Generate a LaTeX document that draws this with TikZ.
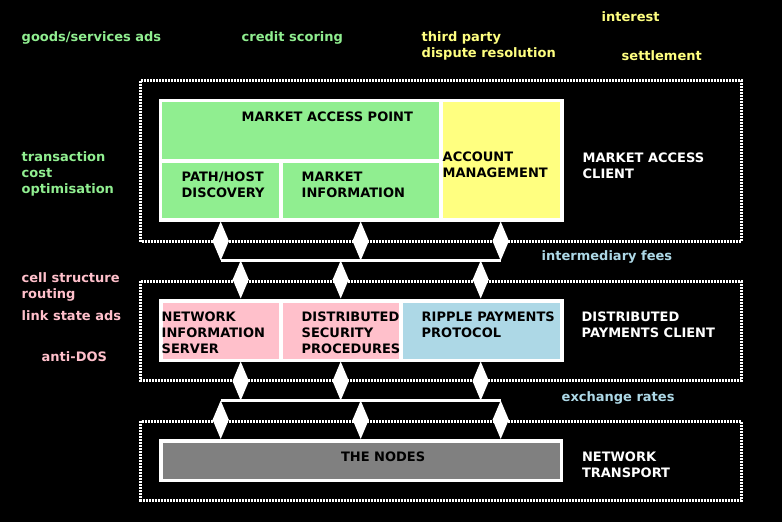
\documentclass[tikz,border=0pt]{standalone}
\usepackage{fontspec}
\setmainfont{DejaVu Sans}
\usetikzlibrary{arrows.meta}
\definecolor{mgreen}{HTML}{90EE90}
\definecolor{myellow}{HTML}{FFFF80}
\definecolor{mpink}{HTML}{FFC0CB}
\definecolor{mblue}{HTML}{ADD8E6}
\definecolor{mgray}{HTML}{808080}
\tikzset{
  cell/.style={inner sep=0pt, outer sep=0pt, anchor=north west},
  txt/.style={inner sep=0pt, outer sep=0pt, anchor=north west, align=left,
    font=\fontsize{13}{16}\selectfont\bfseries},
  frame/.style={draw=white, line width=3pt, dash pattern=on 2pt off 1pt},
  bus/.style={draw=white, line width=3.5pt},
  updown/.style={draw=white, fill=white, line width=1.5pt,
    {Triangle[length=19.5pt,width=16pt]}-{Triangle[length=19.5pt,width=16pt]}},
}
\begin{document}
\begin{tikzpicture}[x=1pt, y=-1pt]
  \useasboundingbox (0,0) rectangle (782,522);
  \fill[black] (0,0) rectangle (782,522);

  % the three layers
  \draw[frame] (140.5,80.5) rectangle (741,241.5);
  \draw[frame] (140.5,281) rectangle (741,380.5);
  \draw[frame] (140.5,421) rectangle (741,500);

  % market access client
  \node[cell, fill=white, minimum width=405, minimum height=123] (macbox) at (158.5,98.5) {};
  \node[cell, fill=mgreen, minimum width=277, minimum height=56.5] (map) at (162,102) {};
  \node[cell, fill=mgreen, minimum width=117, minimum height=55.5] (phd) at (162,162.5) {};
  \node[cell, fill=mgreen, minimum width=156, minimum height=55.5] (minfo) at (283,162.5) {};
  \node[cell, fill=myellow, minimum width=117, minimum height=116] (acct) at (443,102) {};

  % distributed payments client
  \node[cell, fill=white, minimum width=405, minimum height=63] (dpcbox) at (158.5,298.5) {};
  \node[cell, fill=mpink, minimum width=116.5, minimum height=56] (nis) at (162.5,302.5) {};
  \node[cell, fill=mpink, minimum width=116, minimum height=56] (dsp) at (283,302.5) {};
  \node[cell, fill=mblue, minimum width=156.5, minimum height=56] (rpp) at (403,302.5) {};

  % network transport
  \node[cell, fill=white, minimum width=404, minimum height=43] (ntbox) at (159,439) {};
  \node[cell, fill=mgray, minimum width=397, minimum height=36] (nodes) at (162.5,442.5) {};

  % buses and arrows
  \foreach \x [count=\i] in {220.7,360.7,500.7} {
    \coordinate (ua\i) at (\x,260.5);
    \coordinate (la\i) at (\x,400.5);
  }
  \foreach \x [count=\i] in {240.7,340.7,480.7} {
    \coordinate (ub\i) at (\x,260.5);
    \coordinate (lb\i) at (\x,400.5);
  }
  \draw[bus] (ua1) -- (ua3);
  \draw[bus] (la1) -- (la3);
  \foreach \i in {1,2,3} {
    \draw[updown] (ua\i |- macbox.south) -- (ua\i);
    \draw[updown] (ub\i) -- (ub\i |- dpcbox.north);
    \draw[updown] (lb\i |- dpcbox.south) -- (lb\i);
    \draw[updown] (la\i) -- (la\i |- ntbox.north);
  }

  % box texts
  \node[txt] (maptxt) at (241.7,112) {MARKET ACCESS POINT};
  \node[txt] (phdtxt) at (181.7,172) {PATH/HOST\\DISCOVERY};
  \node[txt] (minfotxt) at (301.7,172) {MARKET\\INFORMATION};
  \node[txt] (accttxt) at (442.7,152) {ACCOUNT\\MANAGEMENT};
  \node[txt] (nistxt) at (161.7,312) {NETWORK\\INFORMATION\\SERVER};
  \node[txt] (dsptxt) at (301.7,312) {DISTRIBUTED\\SECURITY\\PROCEDURES};
  \node[txt] (rpptxt) at (421.7,312) {RIPPLE PAYMENTS\\PROTOCOL};
  \node[txt] (nodestxt) at (341,452) {THE NODES};

  % layer names
  \node[txt, white] (macname) at (582.7,152.7) {MARKET ACCESS\\CLIENT};
  \node[txt, white] (dpcname) at (581.7,311.7) {DISTRIBUTED\\PAYMENTS CLIENT};
  \node[txt, white] (ntname) at (582,451.7) {NETWORK\\TRANSPORT};

  % services around the layers
  \node[txt, mgreen] (gsa) at (21.7,31.7) {goods/services ads};
  \node[txt, mgreen] (cscore) at (241.7,31.7) {credit scoring};
  \node[txt, myellow] (tpdr) at (421.7,31.7) {third party\\dispute resolution};
  \node[txt, myellow] (inter) at (601.7,11.7) {interest};
  \node[txt, myellow] (settle) at (621.7,51) {settlement};
  \node[txt, mgreen] (tco) at (21.7,152) {transaction\\cost\\optimisation};
  \node[txt, mpink] (cellr) at (21.7,272.7) {cell structure\\routing};
  \node[txt, mpink] (lsa) at (21.7,311) {link state ads};
  \node[txt, mpink] (ados) at (41.7,351.7) {anti-DOS};
  \node[txt, mblue] (ifees) at (541.7,250.7) {intermediary fees};
  \node[txt, mblue] (xrates) at (561.7,391.7) {exchange rates};
\end{tikzpicture}
\end{document}
